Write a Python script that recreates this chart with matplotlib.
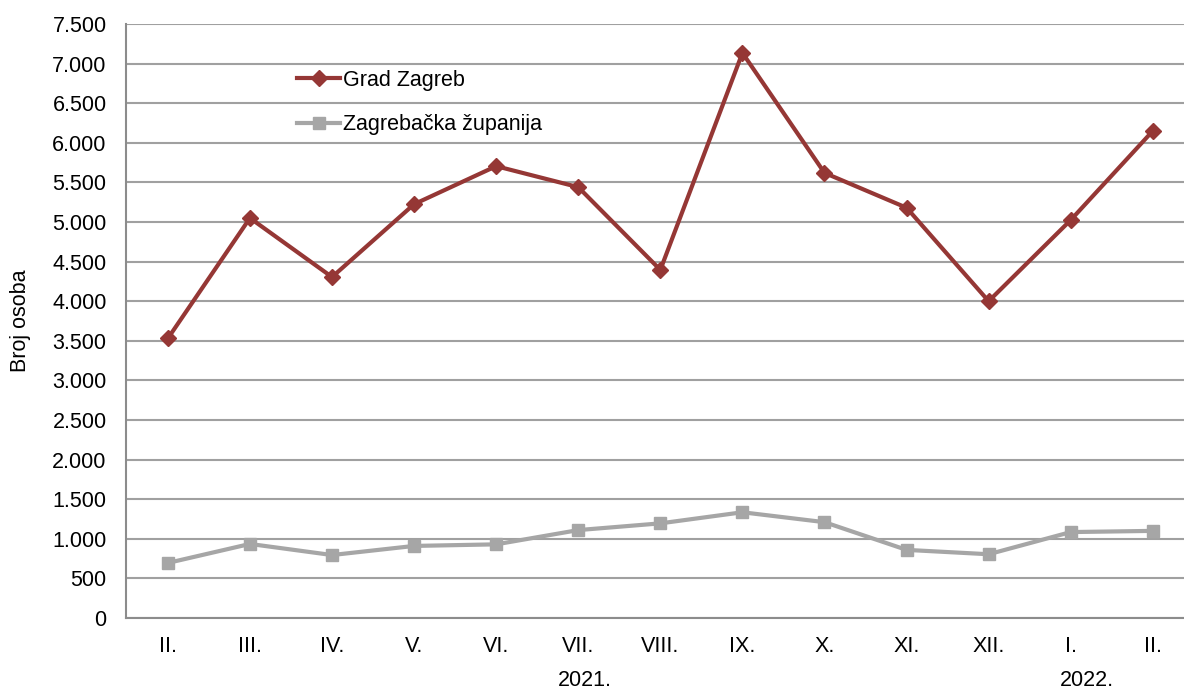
import matplotlib.pyplot as plt

plt.rcParams['font.family'] = ['Liberation Sans', 'DejaVu Sans']

months = ['II.', 'III.', 'IV.', 'V.', 'VI.', 'VII.', 'VIII.', 'IX.', 'X.', 'XI.', 'XII.', 'I.', 'II.']
grad_zagreb = [3530, 5050, 4305, 5225, 5705, 5440, 4395, 7135, 5620, 5180, 4000, 5025, 6150]
zagrebacka = [695, 935, 795, 910, 930, 1110, 1195, 1335, 1210, 860, 805, 1085, 1100]
years = ['2021.', '2022.']
year_pos = [5.08, 11.2]

red = '#953735'
gray = '#A6A6A6'
fs = 15.5

fig = plt.figure(figsize=(11.84, 6.9), dpi=100)
ax = fig.add_axes([126 / 1184, 1 - 618 / 690, (1184 - 126) / 1184, (618 - 24) / 690])

x = list(range(len(months)))
ax.plot(x, grad_zagreb, color=red, lw=3, marker='D', ms=8.5, label='Grad Zagreb', zorder=3)
ax.plot(x, zagrebacka, color=gray, lw=3, marker='s', ms=8, label='Zagrebačka županija', zorder=3)

ax.set_xlim(-0.51, 12.38)
ax.set_ylim(0, 7500)
ax.set_yticks(range(0, 7501, 500))
ax.set_yticklabels([f'{v:,}'.replace(',', '.') for v in range(0, 7501, 500)])
ax.set_xticks(x)
ax.set_xticklabels(months)
ax.tick_params(length=0, labelsize=fs, colors='black')
ax.tick_params(axis='x', pad=13)
ax.tick_params(axis='y', pad=14)

ax.grid(axis='y', color='#A0A0A0', lw=1.5)
ax.set_axisbelow(True)
for s in ['top', 'right']:
    ax.spines[s].set_visible(False)
for s in ['left', 'bottom']:
    ax.spines[s].set_color('#8C8C8C')
    ax.spines[s].set_linewidth(1.5)

for yr, p in zip(years, year_pos):
    ax.text(p, -0.105, yr, transform=ax.get_xaxis_transform(), ha='center', va='center', fontsize=fs)

ax.set_ylabel('Broj osoba', fontsize=fs)
ax.yaxis.set_label_coords(-95 / 1058, 0.5)

ax.legend(loc='upper left', bbox_to_anchor=(171 / 1058, 0.923), frameon=False, fontsize=fs,
          handlelength=2.0, handletextpad=0.15, labelspacing=1.1, borderaxespad=0,
          borderpad=0)

fig.savefig('out.png', dpi=100)
